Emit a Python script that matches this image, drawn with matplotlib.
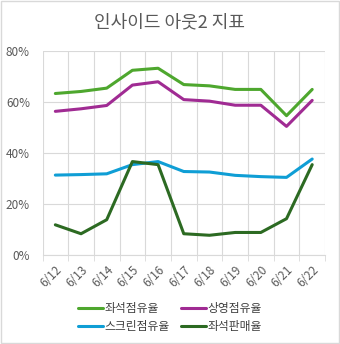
import matplotlib.pyplot as plt
import numpy as np

plt.rcParams['font.family'] = ['Noto Sans CJK KR', 'DejaVu Sans']

dates = ['6/12', '6/13', '6/14', '6/15', '6/16', '6/17', '6/18', '6/19', '6/20', '6/21', '6/22']
seat_share = [63.3, 64.1, 65.4, 72.4, 73.2, 66.8, 66.3, 64.9, 64.9, 54.6, 64.9]
screening_share = [56.3, 57.3, 58.6, 66.6, 67.9, 60.9, 60.3, 58.7, 58.7, 50.4, 60.6]
screen_share = [31.3, 31.5, 31.8, 35.4, 36.6, 32.7, 32.5, 31.2, 30.7, 30.4, 37.6]
seat_sales = [11.8, 8.3, 13.8, 36.6, 35.4, 8.3, 7.7, 8.8, 8.8, 14.2, 35.4]

series = [
    ('좌석점유율', seat_share, '#4EA72E'),
    ('상영점유율', screening_share, '#A02B93'),
    ('스크린점유율', screen_share, '#0F9ED5'),
    ('좌석판매율', seat_sales, '#2C6A22'),
]

fig = plt.figure(figsize=(3.4, 3.44), dpi=100)
ax = fig.add_axes([0.125, 0.259, 0.831, 0.593])

x = np.arange(len(dates))
lines = []
for name, vals, color in series:
    ln, = ax.plot(x, vals, color=color, linewidth=2.2, label=name, solid_capstyle='round')
    lines.append(ln)

ax.set_xlim(-0.5, len(dates) - 0.5)
ax.set_ylim(0, 80)
ax.set_yticks([0, 20, 40, 60, 80])
ax.set_yticklabels(['0%', '20%', '40%', '60%', '80%'], fontsize=8.5, color='#595959')
ax.set_xticks(x)
ax.set_xticklabels(dates, rotation=45, ha='right', rotation_mode='anchor',
                   fontsize=8.5, color='#595959')
ax.tick_params(axis='y', length=0, pad=9)
ax.tick_params(axis='x', length=0, pad=6)
ax.set_xticks(np.arange(-0.5, len(dates)), minor=True)
ax.tick_params(axis='x', which='minor', length=4, color='#d9d9d9')

ax.grid(True, axis='y', color='#d9d9d9', linewidth=0.8)
ax.grid(True, axis='x', which='minor', color='#d9d9d9', linewidth=0.8)
ax.set_axisbelow(True)
for s in ['top', 'right', 'left']:
    ax.spines[s].set_visible(False)
ax.spines['bottom'].set_color('#d9d9d9')

fig.suptitle('인사이드 아웃2 지표', y=0.962, fontsize=13, color='#595959')

# row-major order for a 2-column legend
order = [0, 2, 1, 3]
fig.legend([lines[i] for i in order], [series[i][0] for i in order],
           loc='lower center', bbox_to_anchor=(0.5, 0.0), ncol=2, frameon=False,
           fontsize=8.5, handlelength=2.1, columnspacing=0.9, handletextpad=0.2,
           labelspacing=0.45, labelcolor='#404040')

fig.patches.append(plt.Rectangle((0.003, 0.003), 0.994, 0.994, transform=fig.transFigure,
                                 fill=False, edgecolor='#d9d9d9', linewidth=1))

fig.savefig('out.png', dpi=100)
